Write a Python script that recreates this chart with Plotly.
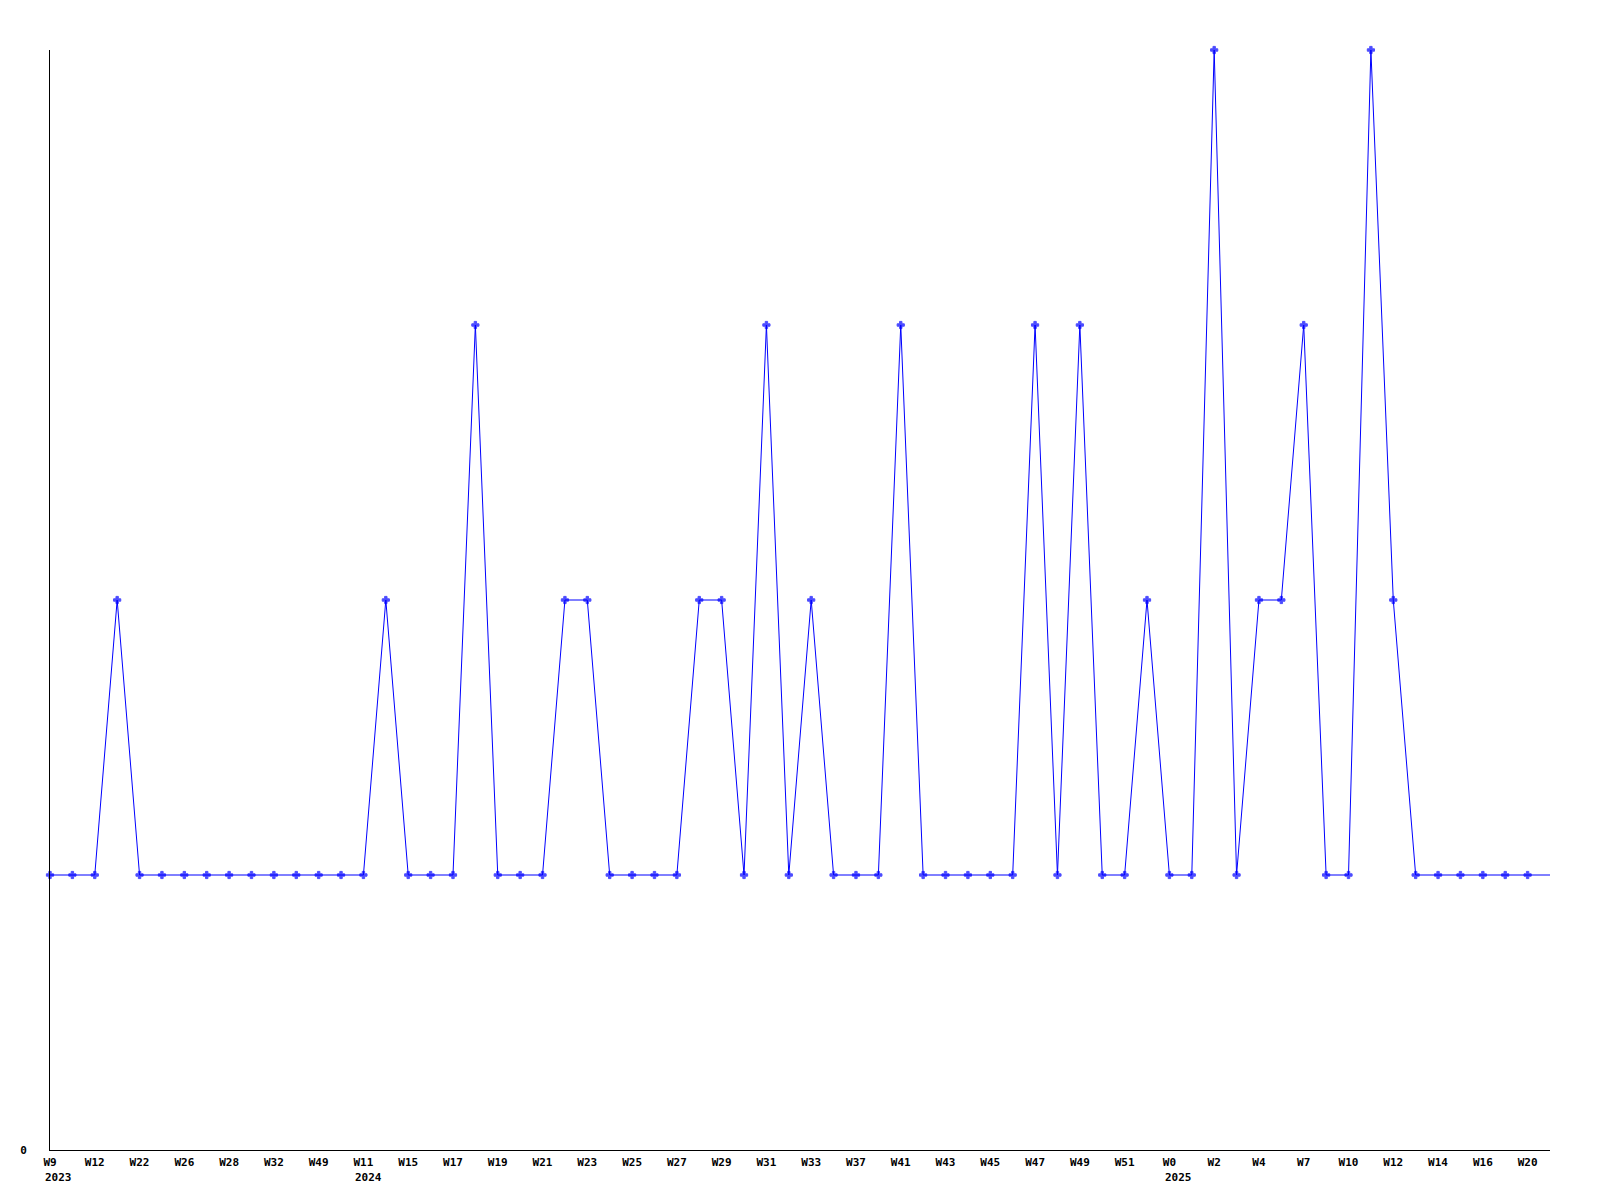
import plotly.graph_objects as go

# Weekly counts (one value per week point)
values = [1, 1, 1, 2, 1, 1, 1, 1, 1, 1, 1, 1, 1, 1, 1, 2, 1, 1, 1, 3,
          1, 1, 1, 2, 2, 1, 1, 1, 1, 2, 2, 1, 3, 1, 2, 1, 1, 1, 3, 1,
          1, 1, 1, 1, 3, 1, 3, 1, 1, 2, 1, 1, 4, 1, 2, 2, 3, 1, 1, 4,
          2, 1, 1, 1, 1, 1, 1, 1]

# Tick labels shown on every second point
tick_labels = ["W9", "W12", "W22", "W26", "W28", "W32", "W49", "W11", "W15", "W17",
               "W19", "W21", "W23", "W25", "W27", "W29", "W31", "W33", "W37", "W41",
               "W43", "W45", "W47", "W49", "W51", "W0", "W2", "W4", "W7", "W10",
               "W12", "W14", "W16", "W20"]

# Year labels: (point index, year)
year_points = [0, 14, 50]
year_labels = ["2023", "2024", "2025"]

x = list(range(len(values)))
tickvals = x[::2][:len(tick_labels)]
marker_sizes = [6] * (len(values) - 1) + [0]

FONT = "DejaVu Sans Mono"
FS = 11
CHAR_W = 0.602 * FS

fig = go.Figure()
fig.add_trace(go.Scatter(
    x=x, y=values, mode="lines+markers",
    line=dict(color="#0000FF", width=1),
    marker=dict(symbol="cross", size=marker_sizes, color="#0000FF",
                line=dict(width=1, color="#0000FF")),
    cliponaxis=False, showlegend=False, hoverinfo="x+y",
))

annotations = []
for idx, yr in zip(year_points, year_labels):
    wk = tick_labels[tickvals.index(idx)]
    annotations.append(dict(
        x=idx, xref="x", y=0, yref="paper", text=yr, showarrow=False,
        xanchor="left", yanchor="top", xshift=-len(wk) * CHAR_W / 2, yshift=-19,
        font=dict(family=FONT, size=FS, color="black", weight="bold"),
    ))

# page body has an 8px margin, so the figure is offset by 8px
fig.update_layout(
    width=1592, height=1192,
    margin=dict(l=42, r=50, t=42, b=50),
    paper_bgcolor="white", plot_bgcolor="white",
    annotations=annotations,
    xaxis=dict(
        range=[0, len(values) - 1], tickmode="array", tickvals=tickvals, ticktext=tick_labels,
        showgrid=False, zeroline=False, showline=True, linecolor="black", linewidth=1,
        ticks="", tickangle=0, ticklabelstandoff=2,
        tickfont=dict(family=FONT, size=FS, color="black", weight="bold"),
    ),
    yaxis=dict(
        range=[0, 4], tickmode="array", tickvals=[0], ticktext=["0"],
        showgrid=False, zeroline=False, showline=True, linecolor="black", linewidth=1,
        ticks="", ticklabelstandoff=20,
        tickfont=dict(family=FONT, size=FS, color="black", weight="bold"),
    ),
)

fig.write_html("out.html")
